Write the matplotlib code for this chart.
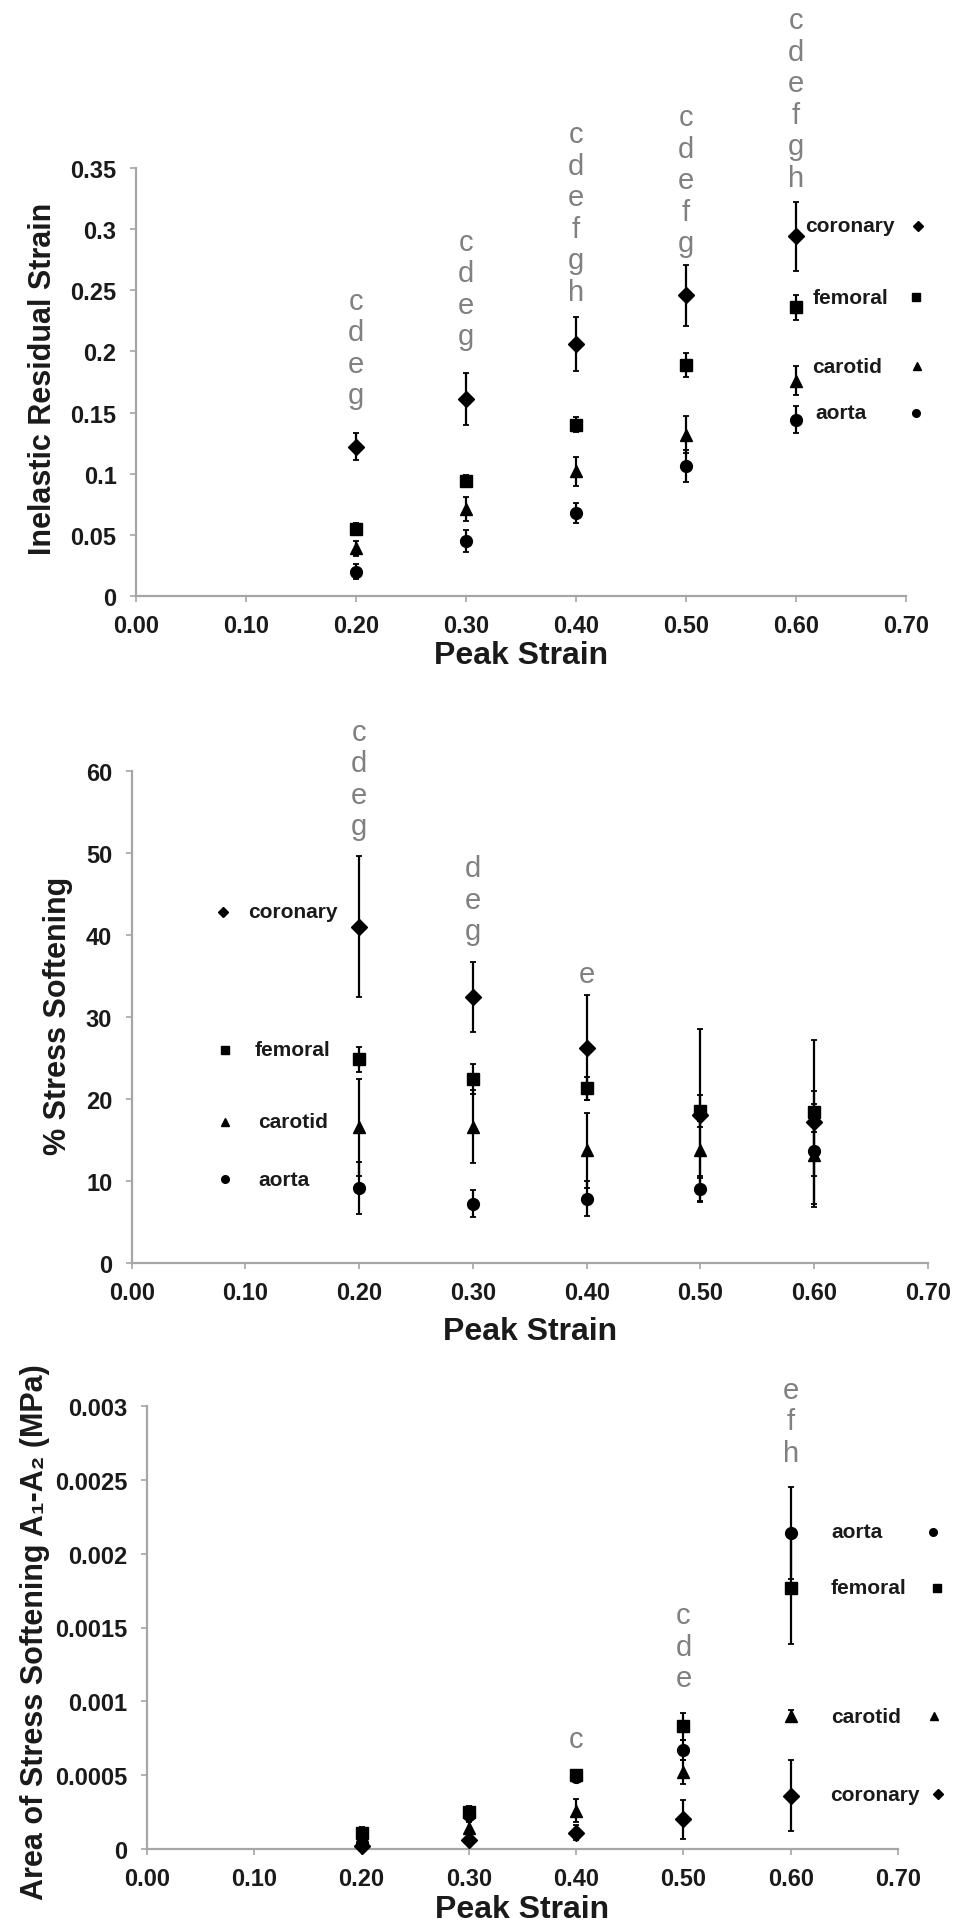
import matplotlib
matplotlib.use("Agg")
import matplotlib.pyplot as plt
from matplotlib.ticker import FixedLocator, FixedFormatter

plt.rcParams['font.family'] = ['Liberation Sans', 'DejaVu Sans']

# ---------------- data ----------------
peak_strain = [0.20, 0.30, 0.40, 0.50, 0.60]
vessels = ["coronary", "femoral", "carotid", "aorta"]
vessel_markers = ["D", "s", "^", "o"]
x_ticks = [0.0, 0.1, 0.2, 0.3, 0.4, 0.5, 0.6, 0.7]
x_tick_labels = ["0.00", "0.10", "0.20", "0.30", "0.40", "0.50", "0.60", "0.70"]

# Panel 1: inelastic residual strain
resid_coronary = [0.122, 0.161, 0.206, 0.246, 0.294]
resid_coronary_err = [0.011, 0.021, 0.022, 0.025, 0.028]
resid_femoral = [0.055, 0.094, 0.140, 0.189, 0.236]
resid_femoral_err = [0.005, 0.005, 0.006, 0.010, 0.010]
resid_carotid = [0.039, 0.071, 0.102, 0.132, 0.176]
resid_carotid_err = [0.006, 0.010, 0.012, 0.015, 0.012]
resid_aorta = [0.020, 0.045, 0.068, 0.106, 0.144]
resid_aorta_err = [0.006, 0.009, 0.008, 0.013, 0.011]
resid_y_ticks = [0, 0.05, 0.1, 0.15, 0.2, 0.25, 0.3, 0.35]
resid_y_labels = ["0", "0.05", "0.1", "0.15", "0.2", "0.25", "0.3", "0.35"]
resid_sig_x = [0.20, 0.30, 0.40, 0.50, 0.60]
resid_sig_letters = ["cdeg", "cdeg", "cdefgh", "cdefg", "cdefgh"]
resid_sig_top = [0.2412, 0.2895, 0.3776, 0.3915, 0.4709]

# Panel 2: % stress softening
soft_coronary = [41.0, 32.4, 26.2, 18.0, 17.2]
soft_coronary_err = [8.6, 4.3, 6.4, 10.5, 10.0]
soft_femoral = [24.8, 22.4, 21.3, 18.5, 18.4]
soft_femoral_err = [1.5, 1.8, 1.4, 2.0, 2.5]
soft_carotid = [16.5, 16.6, 13.7, 13.8, 13.1]
soft_carotid_err = [5.9, 4.5, 4.6, 3.5, 6.3]
soft_aorta = [9.1, 7.2, 7.8, 9.0, 13.6]
soft_aorta_err = [3.2, 1.6, 2.1, 1.6, 3.0]
soft_y_ticks = [0, 10, 20, 30, 40, 50, 60]
soft_y_labels = ["0", "10", "20", "30", "40", "50", "60"]
soft_sig_x = [0.20, 0.30, 0.40]
soft_sig_letters = ["cdeg", "deg", "e"]
soft_sig_top = [64.8, 48.1, 35.2]

# Panel 3: area of stress softening (MPa)
area_coronary = [0.00002, 0.00006, 0.00011, 0.00020, 0.00036]
area_coronary_err = [0.00002, 0.00003, 0.00005, 0.00013, 0.00024]
area_femoral = [0.00011, 0.00025, 0.00050, 0.00083, 0.00177]
area_femoral_err = [0.00004, 0.00004, 0.00003, 0.00009, 0.00038]
area_carotid = [0.00007, 0.00014, 0.00026, 0.00052, 0.00090]
area_carotid_err = [0.00003, 0.00004, 0.00008, 0.00008, 0.00004]
area_aorta = [0.00004, 0.00023, 0.00049, 0.00067, 0.00214]
area_aorta_err = [0.00003, 0.00004, 0.00003, 0.00007, 0.00031]
area_y_ticks = [0, 0.0005, 0.001, 0.0015, 0.002, 0.0025, 0.003]
area_y_labels = ["0", "0.0005", "0.001", "0.0015", "0.002", "0.0025", "0.003"]
area_sig_x = [0.40, 0.50, 0.60]
area_sig_letters = ["c", "cde", "efh"]
area_sig_top = [0.000746, 0.001582, 0.00311]

# ---------------- figure ----------------
W, H, DPI = 956, 1933, 100
fig = plt.figure(figsize=(W / DPI, H / DPI), dpi=DPI)
fig.patch.set_facecolor("white")

AX_COL = "#a6a6a6"
LET_COL = "#808080"
LET_SIZE = 21
LET_STEP_PX = 31.5
PX2PT = 72.0 / DPI


def add_axes_px(x0, x1, ytop, ybot):
    return fig.add_axes([x0 / W, 1 - ybot / H, (x1 - x0) / W, (ybot - ytop) / H])


def style_axes(ax, ylim, yticks, ylabels, ylabel, ylabel_xy, xlabel_off_px, ax_h_px):
    ax.set_xlim(0, 0.7)
    ax.set_ylim(*ylim)
    for s in ["top", "right"]:
        ax.spines[s].set_visible(False)
    for s in ["left", "bottom"]:
        ax.spines[s].set_color(AX_COL)
        ax.spines[s].set_linewidth(1.6)
    ax.xaxis.set_major_locator(FixedLocator(x_ticks))
    ax.xaxis.set_major_formatter(FixedFormatter(x_tick_labels))
    ax.yaxis.set_major_locator(FixedLocator(yticks))
    ax.yaxis.set_major_formatter(FixedFormatter(ylabels))
    ax.tick_params(axis="both", direction="out", length=4, width=1.2, color=AX_COL,
                   labelsize=17)
    ax.tick_params(axis="x", pad=9)
    ax.tick_params(axis="y", pad=10)
    for lab in ax.get_xticklabels() + ax.get_yticklabels():
        lab.set_fontweight("bold")
        lab.set_color("#1a1a1a")
    ax.set_xlabel("Peak Strain", fontsize=23, fontweight="bold", va="center", color="#1a1a1a")
    ax.xaxis.set_label_coords(0.5, -xlabel_off_px / ax_h_px)
    ax.set_ylabel(ylabel, fontsize=22, fontweight="bold", va="center", color="#1a1a1a")
    ax.yaxis.set_label_coords(*ylabel_xy)


def draw_series(ax, series, errs):
    sizes = {"D": 8, "s": 8, "^": 9, "o": 8.5}
    for vals, err, mk in zip(series, errs, vessel_markers):
        ax.errorbar(peak_strain, vals, yerr=err, fmt=mk, color="black", ms=sizes[mk],
                    ecolor="black", elinewidth=1.6, capsize=2.5, capthick=1.3,
                    clip_on=False, zorder=3)


def draw_letters(ax, xs, letters, tops):
    em_px = LET_SIZE / PX2PT
    for x, lets, top in zip(xs, letters, tops):
        for i, ch in enumerate(lets):
            off_px = i * LET_STEP_PX + 0.27 * em_px
            ax.annotate(ch, xy=(x, top), xytext=(0, -off_px * PX2PT),
                        textcoords="offset points", ha="center", va="baseline",
                        fontsize=LET_SIZE, color=LET_COL, annotation_clip=False)


def draw_legend(ax, items):
    for name, mk, xt, xm, y in items:
        ax.text(xt, y, name, fontsize=15, fontweight="bold", ha="left", va="center",
                color="#1a1a1a", clip_on=False)
        ax.plot([xm], [y], marker=mk, color="black", ms=5.5, ls="none", clip_on=False)


# ---- Panel 1 ----
ax1 = add_axes_px(136, 906, 169, 597)
draw_series(ax1, [resid_coronary, resid_femoral, resid_carotid, resid_aorta],
            [resid_coronary_err, resid_femoral_err, resid_carotid_err, resid_aorta_err])
style_axes(ax1, (0, 0.35), resid_y_ticks, resid_y_labels, "Inelastic Residual Strain",
           ((43 - 136) / 770, 0.509), 59, 428)
draw_letters(ax1, resid_sig_x, resid_sig_letters, resid_sig_top)
draw_legend(ax1, [
    ("coronary", "D", 0.608, 0.711, 0.3026),
    ("femoral", "s", 0.615, 0.709, 0.2445),
    ("carotid", "^", 0.615, 0.710, 0.188),
    ("aorta", "o", 0.618, 0.709, 0.150),
])

# ---- Panel 2 ----
ax2 = add_axes_px(131.7, 928, 772, 1263.6)
draw_series(ax2, [soft_coronary, soft_femoral, soft_carotid, soft_aorta],
            [soft_coronary_err, soft_femoral_err, soft_carotid_err, soft_aorta_err])
style_axes(ax2, (0, 60), soft_y_ticks, soft_y_labels, "% Stress Softening",
           ((58 - 131.7) / 796.3, 0.504), 68, 491.6)
draw_letters(ax2, soft_sig_x, soft_sig_letters, soft_sig_top)
draw_legend(ax2, [
    ("coronary", "D", 0.102, 0.080, 42.8),
    ("femoral", "s", 0.108, 0.082, 26.0),
    ("carotid", "^", 0.111, 0.082, 17.2),
    ("aorta", "o", 0.111, 0.082, 10.2),
])

# ---- Panel 3 ----
ax3 = add_axes_px(147, 898, 1407, 1850)
draw_series(ax3, [area_coronary, area_femoral, area_carotid, area_aorta],
            [area_coronary_err, area_femoral_err, area_carotid_err, area_aorta_err])
style_axes(ax3, (0, 0.003), area_y_ticks, area_y_labels,
           "Area of Stress Softening A\u2081-A\u2082 (MPa)",
           ((35 - 147) / 751, 0.492), 60, 443)
draw_letters(ax3, area_sig_x, area_sig_letters, area_sig_top)
draw_legend(ax3, [
    ("aorta", "o", 0.638, 0.733, 0.00215),
    ("femoral", "s", 0.637, 0.736, 0.00177),
    ("carotid", "^", 0.638, 0.734, 0.00090),
    ("coronary", "D", 0.637, 0.737, 0.00037),
])

fig.savefig("out.png", dpi=DPI, facecolor="white")
